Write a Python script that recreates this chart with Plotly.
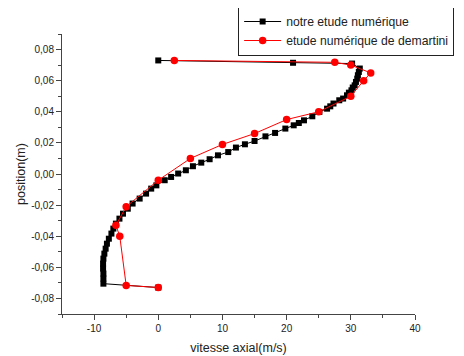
import plotly.graph_objects as go

# notre etude numérique (black squares)
vit_notre = [0, 21, 30.2, 31.4, 31.25, 31.1, 31.0, 30.8, 30.6, 30.3, 30.1, 29.7, 29.4, 28.8, 28.2,
             27.3, 26.8, 26.3, 25.1, 24.0, 22.7, 21.9, 21.1, 19.8, 18.2, 16.7, 15.0, 13.5, 12.1,
             10.9, 9.3, 8.0, 6.7, 5.4, 4.3, 3.1, 2.0, 1.0, -0.3, -1.1, -1.9, -2.9, -4.0, -4.75,
             -5.5, -6.05, -6.6, -7.0, -7.3, -7.7, -8.0, -8.2, -8.4, -8.55, -8.6, -8.6, -8.55,
             -8.55, -8.55, 0]
pos_notre = [0.073, 0.0715, 0.071, 0.0678, 0.0656, 0.0635, 0.0613, 0.0592, 0.0570, 0.0556, 0.0538,
             0.0523, 0.0506, 0.0485, 0.0474, 0.0453, 0.0435, 0.0420, 0.0399, 0.0371, 0.0345,
             0.0328, 0.0313, 0.0292, 0.0264, 0.0242, 0.0212, 0.0191, 0.0170, 0.0141, 0.0120,
             0.0095, 0.0073, 0.0050, 0.0024, 0.0003, -0.0019, -0.0040, -0.0073, -0.0094, -0.0126,
             -0.0158, -0.0190, -0.0223, -0.0255, -0.0287, -0.0319, -0.0351, -0.0383, -0.0416,
             -0.0448, -0.0480, -0.0512, -0.0544, -0.0576, -0.0608, -0.0640, -0.0672, -0.0705, -0.073]

# etude numérique de demartini (red circles)
vit_demartini = [2.5, 27.5, 30.0, 33.1, 32.0, 30.0, 25.0, 20.0, 15.0, 10.0, 5.0, 0.0, -5.0, -6.6, -6.0, -5.0, 0.0]
pos_demartini = [0.073, 0.0718, 0.070, 0.065, 0.060, 0.050, 0.040, 0.035, 0.026, 0.019, 0.010,
                 -0.004, -0.021, -0.033, -0.040, -0.0716, -0.073]

x_ticks = [-10, 0, 10, 20, 30, 40]
y_ticks = [-0.08, -0.06, -0.04, -0.02, 0.0, 0.02, 0.04, 0.06, 0.08]
y_labels = ['-0,08', '-0,06', '-0,04', '-0,02', '0,00', '0,02', '0,04', '0,06', '0,08']

fig = go.Figure()
fig.add_trace(go.Scatter(x=vit_notre, y=pos_notre, mode='lines+markers', name='notre etude numérique',
                         line=dict(color='black', width=1),
                         marker=dict(symbol='square', size=6, color='black')))
fig.add_trace(go.Scatter(x=vit_demartini, y=pos_demartini, mode='lines+markers',
                         name='etude numérique de demartini',
                         line=dict(color='red', width=1),
                         marker=dict(symbol='circle', size=7.5, color='red')))

fnt = 'Liberation Sans, Arial'
axis_font = dict(family=fnt, size=10, color='#222')
fig.update_xaxes(range=[-15, 40], tickvals=x_ticks, ticktext=[str(v) for v in x_ticks],
                 ticks='outside', ticklen=5, tickcolor='#444', showline=True, linecolor='#444',
                 linewidth=1, showgrid=False, zeroline=False, tickfont=axis_font,
                 minor=dict(ticks='outside', ticklen=3, dtick=5, tick0=0, tickcolor='#444', showgrid=False),
                 title=dict(text='vitesse axial(m/s)', font=dict(family=fnt, size=12.5, color='#222'), standoff=10))
fig.update_yaxes(range=[-0.09, 0.09], tickvals=y_ticks, ticktext=y_labels,
                 ticks='outside', ticklen=5, tickcolor='#444', showline=True, linecolor='#444',
                 linewidth=1, showgrid=False, zeroline=False, tickfont=axis_font,
                 minor=dict(ticks='outside', ticklen=3, dtick=0.01, tick0=0, tickcolor='#444', showgrid=False),
                 title=dict(text='position(m)', font=dict(family=fnt, size=12.5, color='#222'), standoff=2))

# page body has an 8px margin, so the figure is a bit smaller than the window
fig.update_layout(width=456, height=348, margin=dict(l=54, r=49, t=26, b=42, autoexpand=False),
                  plot_bgcolor='white', paper_bgcolor='white',
                  legend=dict(x=0.499, y=1.1, xanchor='left', yanchor='top', bordercolor='#222', borderwidth=1,
                              bgcolor='white', tracegroupgap=0, itemwidth=37,
                              font=dict(family=fnt, size=12.2, color='#222')))

fig.write_html("out.html")
